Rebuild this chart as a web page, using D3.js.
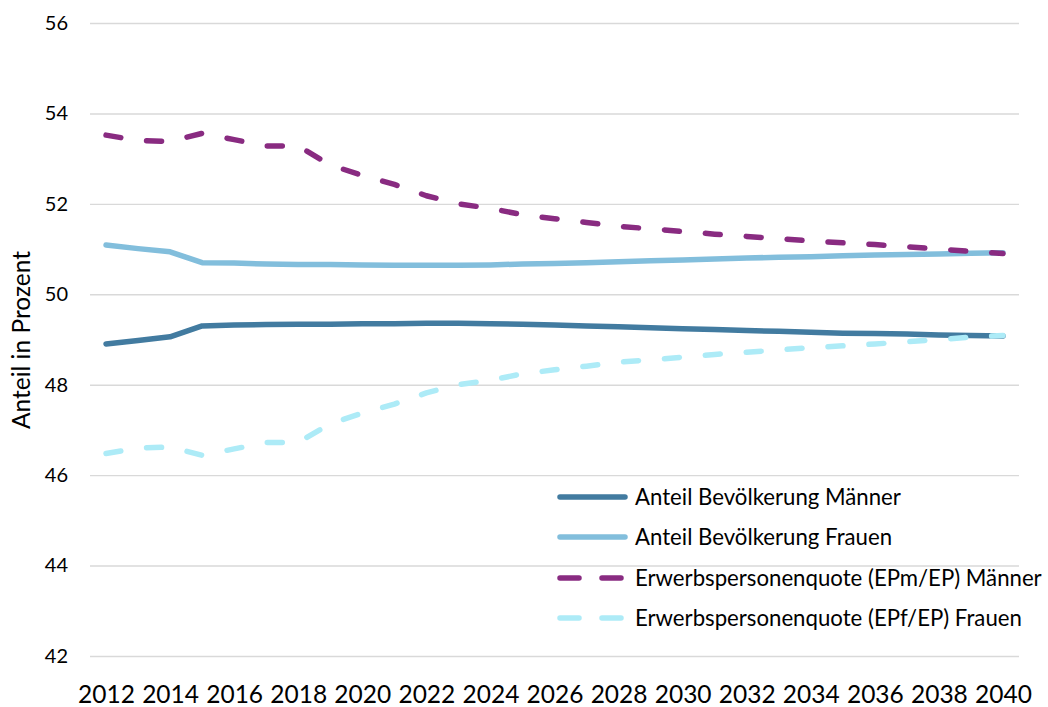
<!DOCTYPE html>
<html>
<head>
<meta charset="utf-8">
<script src="https://cdn.jsdelivr.net/npm/d3@7"></script>
<style>
  html, body { margin: 0; padding: 0; background: #fff; }
  svg { display: block; font-family: Lato, "Open Sans", sans-serif; }
</style>
</head>
<body>
<svg id="chart" width="1048" height="707"></svg>
<script>
const years = [2012,2013,2014,2015,2016,2017,2018,2019,2020,2021,2022,2023,2024,2025,2026,2027,2028,2029,2030,2031,2032,2033,2034,2035,2036,2037,2038,2039,2040];
const xTickLabels = [2012,2014,2016,2018,2020,2022,2024,2026,2028,2030,2032,2034,2036,2038,2040];
const yTickLabels = [42,44,46,48,50,52,54,56];

const seriesNames = [
  "Anteil Bevölkerung Männer",
  "Anteil Bevölkerung Frauen",
  "Erwerbspersonenquote (EPm/EP) Männer",
  "Erwerbspersonenquote (EPf/EP) Frauen"
];
const bevMaenner = [48.90,48.98,49.06,49.30,49.32,49.33,49.34,49.34,49.35,49.35,49.36,49.36,49.35,49.34,49.32,49.30,49.28,49.26,49.24,49.22,49.20,49.18,49.16,49.14,49.13,49.12,49.10,49.09,49.08];
const bevFrauen  = [51.09,51.01,50.94,50.70,50.69,50.67,50.66,50.66,50.65,50.64,50.64,50.64,50.65,50.67,50.68,50.70,50.72,50.74,50.76,50.78,50.80,50.82,50.83,50.85,50.87,50.88,50.89,50.91,50.92];
const epMaenner  = [53.52,53.40,53.38,53.56,53.42,53.28,53.28,52.86,52.63,52.43,52.18,52.00,51.90,51.76,51.67,51.59,51.50,51.45,51.39,51.33,51.28,51.23,51.18,51.14,51.10,51.05,51.00,50.95,50.90];
const epFrauen   = [46.48,46.60,46.62,46.44,46.58,46.72,46.72,47.14,47.37,47.57,47.82,48.00,48.10,48.24,48.33,48.41,48.50,48.55,48.61,48.67,48.72,48.77,48.82,48.86,48.90,48.95,49.00,49.05,49.09];
const yTitle = "Anteil in Prozent";

const colors = ["#427BA0", "#82BEDC", "#892B81", "#ADEBF7"];
const dashed = [false, false, true, true];
const seriesValues = [bevMaenner, bevFrauen, epMaenner, epFrauen];

const svg = d3.select("#chart");
const plotL = 90, plotR = 1019, plotT = 23, plotB = 656;

const x = d3.scaleLinear().domain([2011.5, 2040.5]).range([plotL, plotR]);
const y = d3.scaleLinear().domain([42, 56]).range([plotB, plotT]);

// gridlines + y labels
const yAxis = d3.axisLeft(y).tickValues(yTickLabels).tickSize(-(plotR - plotL)).tickFormat(d3.format("d")).tickPadding(22);
const gy = svg.append("g").attr("transform", `translate(${plotL},0)`).call(yAxis);
gy.select(".domain").remove();
gy.selectAll(".tick line").attr("stroke", "#D9D9D9").attr("stroke-width", 1.4);
gy.selectAll(".tick text").attr("fill", "#000").style("font-size", "20px").attr("font-family", "Lato");

// x labels
const xAxis = d3.axisBottom(x).tickValues(xTickLabels).tickSize(0).tickFormat(d3.format("d")).tickPadding(30);
const gx = svg.append("g").attr("transform", `translate(0,${plotB})`).call(xAxis);
gx.select(".domain").remove();
gx.selectAll(".tick text").attr("fill", "#000").style("font-size", "24.5px").attr("font-family", "Lato");

// y title
svg.append("text")
  .attr("transform", `translate(30,340) rotate(-90)`)
  .attr("text-anchor", "middle")
  .attr("fill", "#000")
  .style("font-size", "24.5px")
  .text(yTitle);

// lines
const line = d3.line().x((d, i) => x(years[i])).y(d => y(d));
const order = [1, 0, 3, 2];
order.forEach(k => {
  svg.append("path")
    .datum(seriesValues[k])
    .attr("d", line)
    .attr("fill", "none")
    .attr("stroke", colors[k])
    .attr("stroke-width", 5.5)
    .attr("stroke-linecap", "round")
    .attr("stroke-linejoin", "round")
    .attr("stroke-dasharray", dashed[k] ? "15,26" : null);
});

// legend
const legendY = [497, 537, 578, 618];
const lg = svg.append("g");
seriesNames.forEach((name, k) => {
  const row = lg.append("g").attr("transform", `translate(0,${legendY[k]})`);
  row.append("line")
    .attr("x1", 560).attr("x2", 625).attr("y1", 0).attr("y2", 0)
    .attr("stroke", colors[k]).attr("stroke-width", 5.5)
    .attr("stroke-linecap", "round")
    .attr("stroke-dasharray", dashed[k] ? "19,23" : null);
  row.append("text")
    .attr("x", 635).attr("y", 0).attr("dy", "0.36em")
    .attr("fill", "#000")
    .style("font-size", "22.2px")
    .text(name);
});
</script>
</body>
</html>
